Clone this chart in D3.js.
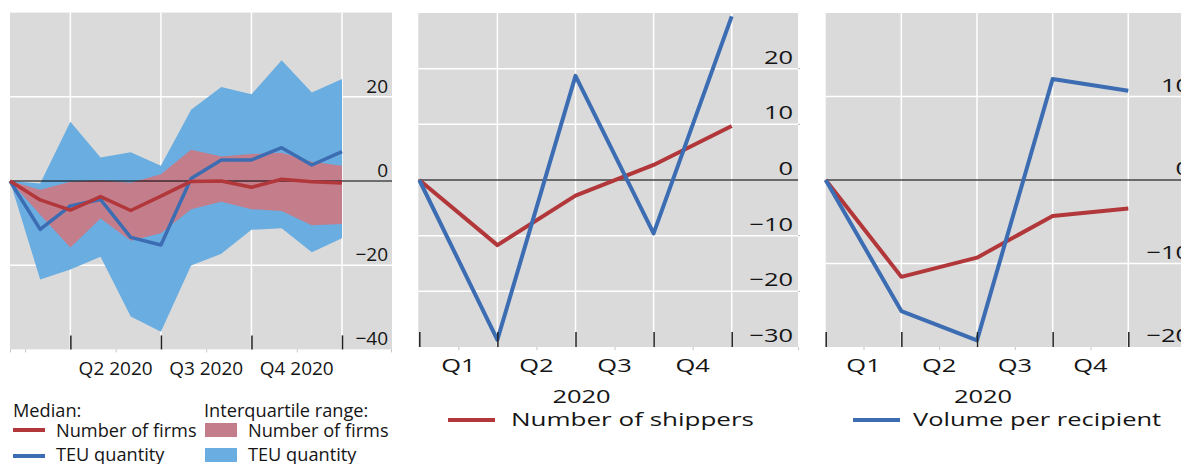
<!DOCTYPE html>
<html>
<head>
<meta charset="utf-8">
<script src="https://cdn.jsdelivr.net/npm/d3@7"></script>
<style>
  html, body { margin: 0; padding: 0; background: #fff; overflow: hidden; }
  svg { display: block; }
  text { font-family: "Open Sans", "Noto Sans", sans-serif; fill: #151515; }
</style>
</head>
<body>
<svg id="chart" width="1181" height="464"></svg>
<script>
// ---- Monthly container data, 2020 (index 0 = base month, % change) ----
const months = ["Jan", "Feb", "Mar", "Apr", "May", "Jun", "Jul", "Aug", "Sep", "Oct", "Nov", "Dec"];
const firmsMedian = [0, -4.5, -6.9, -3.7, -7.0, -3.6, -0.1, 0.0, -1.5, 0.4, -0.2, -0.5];
const teuMedian   = [0, -11.5, -5.9, -4.4, -13.4, -15.2, 0.6, 5.0, 5.0, 7.9, 3.8, 7.0];
const firmsLower  = [0, -8.0, -15.8, -8.9, -14.2, -12.4, -6.7, -4.9, -6.7, -7.1, -10.5, -10.2];
const firmsUpper  = [0, -2.1, -0.2, 0.2, -0.4, 1.6, 7.4, 5.8, 6.4, 6.7, 4.6, 3.6];
const teuLower    = [0, -23.4, -21.0, -18.0, -32.2, -35.8, -20.1, -17.3, -11.6, -11.2, -16.9, -13.6];
const teuUpper    = [0, -0.6, 14.1, 5.6, 6.8, 3.6, 16.9, 22.3, 20.6, 28.7, 21.0, 24.2];
const monthQuarterLabels = ["Q2 2020", "Q3 2020", "Q4 2020"];
const leftTicks = [20, 0, -20, -40];

// ---- Quarterly data (index 0 = Q4 2019 base) ----
const quarters = ["Q4 2019", "Q1 2020", "Q2 2020", "Q3 2020", "Q4 2020"];
const quarterLabels = ["Q1", "Q2", "Q3", "Q4"];
const yearLabel = "2020";
const shippers           = [0, -11.7, -2.8, 2.7, 9.7];
const volumePerShipper   = [0, -28.7, 18.7, -9.6, 29.4];
const recipients         = [0, -11.6, -9.3, -4.3, -3.4];
const volumePerRecipient = [0, -15.7, -19.2, 12.1, 10.7];
const midTicks = [20, 10, 0, -10, -20, -30];
const rightTicks = [10, 0, -10, -20];

// ---- Styling ----
const RED = "#b2373a", BLUE = "#3c6db3";
const RED_BAND = "#c37d8b", BLUE_BAND = "#6aade0";
const BG = "#dadada", GRID = "#ffffff";
const FS = 19;          // base font size
const LEGEND_FS = 18.2; // legend font size in the monthly panel
const STRETCH = 1.34;   // horizontal text stretch used in the quarterly panels
const STRETCH_LEGEND = 1.37;

const svg = d3.select("#chart");
const fmt = d3.format("d");  // uses the typographic minus sign

// =================== Left panel: monthly medians and IQRs ===================
(function () {
  const left = 10, right = 392, top = 12.6, bottom = 349.4;
  const x = d3.scaleLinear().domain([0, months.length - 1]).range([10, 342]);
  const y = d3.scaleLinear().domain([-40, 40]).range([bottom, top]);
  const g = svg.append("g");

  g.append("rect").attr("x", left).attr("y", top)
    .attr("width", right - left).attr("height", bottom - top).attr("fill", BG);

  // grid
  g.selectAll("line.hg").data([20, -20]).join("line")
    .attr("x1", left).attr("x2", right)
    .attr("y1", d => y(d)).attr("y2", d => y(d))
    .attr("stroke", GRID).attr("stroke-width", 1.5);
  g.selectAll("line.vg").data([2, 5, 8, 11]).join("line")
    .attr("x1", d => x(d)).attr("x2", d => x(d))
    .attr("y1", top).attr("y2", bottom)
    .attr("stroke", GRID).attr("stroke-width", 1.5);

  const band = (lo, hi) => d3.area().x((d, i) => x(i)).y0((d, i) => y(lo[i])).y1((d, i) => y(hi[i]))(months);
  g.append("path").attr("d", band(teuLower, teuUpper)).attr("fill", BLUE_BAND);
  g.append("path").attr("d", band(firmsLower, firmsUpper)).attr("fill", RED_BAND);

  g.append("line").attr("x1", left).attr("x2", right)
    .attr("y1", y(0)).attr("y2", y(0)).attr("stroke", "#000").attr("stroke-width", 1);

  const line = d3.line().x((d, i) => x(i)).y(d => y(d));
  g.append("path").attr("d", line(teuMedian)).attr("fill", "none")
    .attr("stroke", BLUE).attr("stroke-width", 3.5).attr("stroke-linejoin", "round");
  g.append("path").attr("d", line(firmsMedian)).attr("fill", "none")
    .attr("stroke", RED).attr("stroke-width", 3.5).attr("stroke-linejoin", "round");

  // major ticks at quarter ends (inside), minor ticks at quarter middles (outside)
  const major = g.append("g").attr("transform", `translate(0,${bottom})`)
    .call(d3.axisBottom(x).tickValues([2, 5, 8, 11]).tickSize(-14).tickSizeOuter(0).tickFormat(""));
  major.select(".domain").remove();
  major.selectAll("line").attr("stroke", "#222").attr("stroke-width", 1.5);
  const minor = g.append("g").attr("transform", `translate(0,${bottom})`)
    .call(d3.axisBottom(x).tickValues([0, 0.5, 3.5, 6.5, 9.5, x.invert(right - 1)]).tickSize(3).tickFormat(""));
  minor.select(".domain").remove();
  minor.selectAll("line").attr("stroke", "#c4c4c4").attr("stroke-width", 1);

  g.selectAll("text.xq").data(monthQuarterLabels).join("text")
    .attr("x", (d, i) => x(3.5 + 3 * i)).attr("y", 375)
    .attr("text-anchor", "middle").attr("font-size", FS).text(d => d);

  g.selectAll("text.yt").data(leftTicks).join("text")
    .attr("x", 388).attr("y", d => y(d) - 4)
    .attr("text-anchor", "end").attr("font-size", FS).text(d => fmt(d));

  // legend
  const lg = g.append("g").attr("font-size", LEGEND_FS);
  lg.append("text").attr("x", 13).attr("y", 417).text("Median:");
  lg.append("line").attr("x1", 13).attr("x2", 45).attr("y1", 430).attr("y2", 430).attr("stroke", RED).attr("stroke-width", 4);
  lg.append("text").attr("x", 56).attr("y", 437).text("Number of firms");
  lg.append("line").attr("x1", 13).attr("x2", 45).attr("y1", 456).attr("y2", 456).attr("stroke", BLUE).attr("stroke-width", 4);
  lg.append("text").attr("x", 56).attr("y", 461).text("TEU quantity");
  lg.append("text").attr("x", 204).attr("y", 417).text("Interquartile range:");
  lg.append("rect").attr("x", 205).attr("y", 423).attr("width", 32).attr("height", 14).attr("fill", RED_BAND);
  lg.append("text").attr("x", 248).attr("y", 437).text("Number of firms");
  lg.append("rect").attr("x", 205).attr("y", 448).attr("width", 32).attr("height", 14).attr("fill", BLUE_BAND);
  lg.append("text").attr("x", 248).attr("y", 461).text("TEU quantity");
})();

// =================== Quarterly panels ===================
function quarterlyPanel(opt) {
  const { left, first, last, right, top, bottom, domainY, ticks, grid, redSeries, blueSeries, legend } = opt;
  const x = d3.scaleLinear().domain([0, quarters.length - 1]).range([first, last]);
  const y = d3.scaleLinear().domain(domainY).range([bottom, top]);
  const g = svg.append("g");
  const stretched = (sel, px, py, s = STRETCH) => sel.attr("transform", `translate(${px},${py}) scale(${s},1)`);

  g.append("rect").attr("x", left).attr("y", top)
    .attr("width", right - left).attr("height", bottom - top).attr("fill", BG);

  g.selectAll("line.hg").data(grid).join("line")
    .attr("x1", left).attr("x2", right)
    .attr("y1", d => y(d)).attr("y2", d => y(d))
    .attr("stroke", GRID).attr("stroke-width", 1.5);
  g.selectAll("line.rt").data(grid).join("line")
    .attr("x1", right).attr("x2", right + 2)
    .attr("y1", d => y(d)).attr("y2", d => y(d))
    .attr("stroke", "#bbb").attr("stroke-width", 1);
  g.selectAll("line.vg").data([1, 2, 3, 4]).join("line")
    .attr("x1", d => x(d)).attr("x2", d => x(d))
    .attr("y1", top).attr("y2", bottom)
    .attr("stroke", GRID).attr("stroke-width", 1.5);

  g.append("line").attr("x1", left).attr("x2", right)
    .attr("y1", y(0)).attr("y2", y(0)).attr("stroke", "#444").attr("stroke-width", 1.5);

  const line = d3.line().x((d, i) => x(i)).y(d => y(d));
  g.append("path").attr("d", line(redSeries)).attr("fill", "none")
    .attr("stroke", RED).attr("stroke-width", 4).attr("stroke-linejoin", "round");
  g.append("path").attr("d", line(blueSeries)).attr("fill", "none")
    .attr("stroke", BLUE).attr("stroke-width", 4).attr("stroke-linejoin", "round");

  const major = g.append("g").attr("transform", `translate(0,${bottom})`)
    .call(d3.axisBottom(x).tickValues([0, 1, 2, 3, 4]).tickSize(-15).tickSizeOuter(0).tickFormat(""));
  major.select(".domain").remove();
  major.selectAll("line").attr("stroke", "#222").attr("stroke-width", 1.5);
  const minor = g.append("g").attr("transform", `translate(0,${bottom})`)
    .call(d3.axisBottom(x).tickValues([0.5, 1.5, 2.5, 3.5, x.invert(right)]).tickSize(3).tickFormat(""));
  minor.select(".domain").remove();
  minor.selectAll("line").attr("stroke", "#c4c4c4").attr("stroke-width", 1);

  quarterLabels.forEach((q, i) => {
    stretched(g.append("text").attr("text-anchor", "middle").attr("font-size", FS).text(q), x(0.5 + i), 372);
  });
  stretched(g.append("text").attr("text-anchor", "middle").attr("font-size", FS).text(yearLabel), x(2) + 6, 403);

  ticks.forEach(t => {
    stretched(g.append("text").attr("text-anchor", "end").attr("font-size", FS).text(fmt(t)), right - 5, y(t) - 5);
  });

  g.append("line").attr("x1", legend.x).attr("x2", legend.x + 47)
    .attr("y1", 420).attr("y2", 420).attr("stroke", legend.color).attr("stroke-width", 4);
  stretched(g.append("text").attr("font-size", FS).text(legend.label), legend.x + legend.gap, 426, legend.stretch);
}

quarterlyPanel({
  left: 418.3, first: 419.3, last: 731.7, right: 798, top: 13, bottom: 347,
  domainY: [-30, 30], ticks: midTicks, grid: [20, 10, -10, -20],
  redSeries: shippers, blueSeries: volumePerShipper,
  legend: { x: 448, gap: 63, stretch: STRETCH_LEGEND, color: RED, label: "Number of shippers" }
});

quarterlyPanel({
  left: 825.7, first: 825.7, last: 1128.3, right: 1195, top: 13, bottom: 347,
  domainY: [-20, 20], ticks: rightTicks, grid: [10, -10],
  redSeries: recipients, blueSeries: volumePerRecipient,
  legend: { x: 853, gap: 60, stretch: STRETCH, color: BLUE, label: "Volume per recipient" }
});
</script>
</body>
</html>
